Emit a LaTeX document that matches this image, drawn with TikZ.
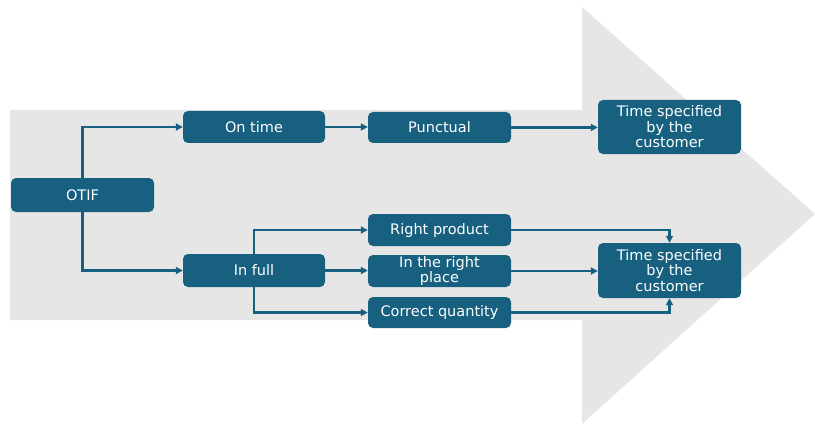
\documentclass[tikz,border=0pt]{standalone}
\usepackage{fontspec}
\setmainfont{DejaVu Sans}
\usetikzlibrary{arrows.meta}
\definecolor{boxblue}{HTML}{17607F}
\definecolor{bandgray}{HTML}{E6E6E6}
\tikzset{
  stepbox/.style={rectangle, rounded corners=5pt, fill=boxblue, text=white,
    inner sep=0pt, align=center, font=\fontsize{14.5}{15.5}\selectfont},
  link/.style={draw=boxblue, line width=2.2pt,
    -{Triangle[length=7pt,width=7pt]}}
}
\begin{document}
\begin{tikzpicture}[x=1pt,y=-1pt]
  \useasboundingbox (0,0) rectangle (815,428);
  % big grey arrow behind the flow
  \fill[bandgray] (10,110) -- (582,110) -- (582,7) -- (815,214)
    -- (582,424) -- (582,320) -- (10,320) -- cycle;

  % boxes
  \node[stepbox, minimum width=143pt, minimum height=34pt] (otif) at (82.5,195) {OTIF};
  \node[stepbox, minimum width=142pt, minimum height=32pt] (ontime) at (254,127) {On time};
  \node[stepbox, minimum width=142pt, minimum height=33pt] (infull) at (254,270.5) {In full};
  \node[stepbox, minimum width=143pt, minimum height=31pt] (punct) at (439.5,127.5) {Punctual};
  \node[stepbox, minimum width=143pt, minimum height=32pt] (rprod) at (439.5,230) {Right product};
  \node[stepbox, minimum width=143pt, minimum height=32pt] (rplace) at (439.5,271) {In the right\\place};
  \node[stepbox, minimum width=143pt, minimum height=31pt] (cqty) at (439.5,312.5) {Correct quantity};
  \node[stepbox, minimum width=143pt, minimum height=54pt] (ttop) at (669.5,127) {Time specified\\by the\\customer};
  \node[stepbox, minimum width=143pt, minimum height=55pt] (tbot) at (669.5,270.5) {Time specified\\by the\\customer};

  % connectors
  \draw[link] (otif.north) |- (ontime.west);
  \draw[link] (otif.south) |- (infull.west);
  \draw[link] (ontime.east) -- (punct.west |- ontime.east);
  \draw[link] (punct.east) -- (ttop.west |- punct.east);
  \draw[link] (infull.north) |- (rprod.west);
  \draw[link] (infull.east) -- (rplace.west |- infull.east);
  \draw[link] (infull.south) |- (cqty.west);
  \draw[link] (rprod.east) -| (tbot.north);
  \draw[link] (rplace.east) -- (tbot.west |- rplace.east);
  \draw[link] (cqty.east) -| (tbot.south);
\end{tikzpicture}
\end{document}
